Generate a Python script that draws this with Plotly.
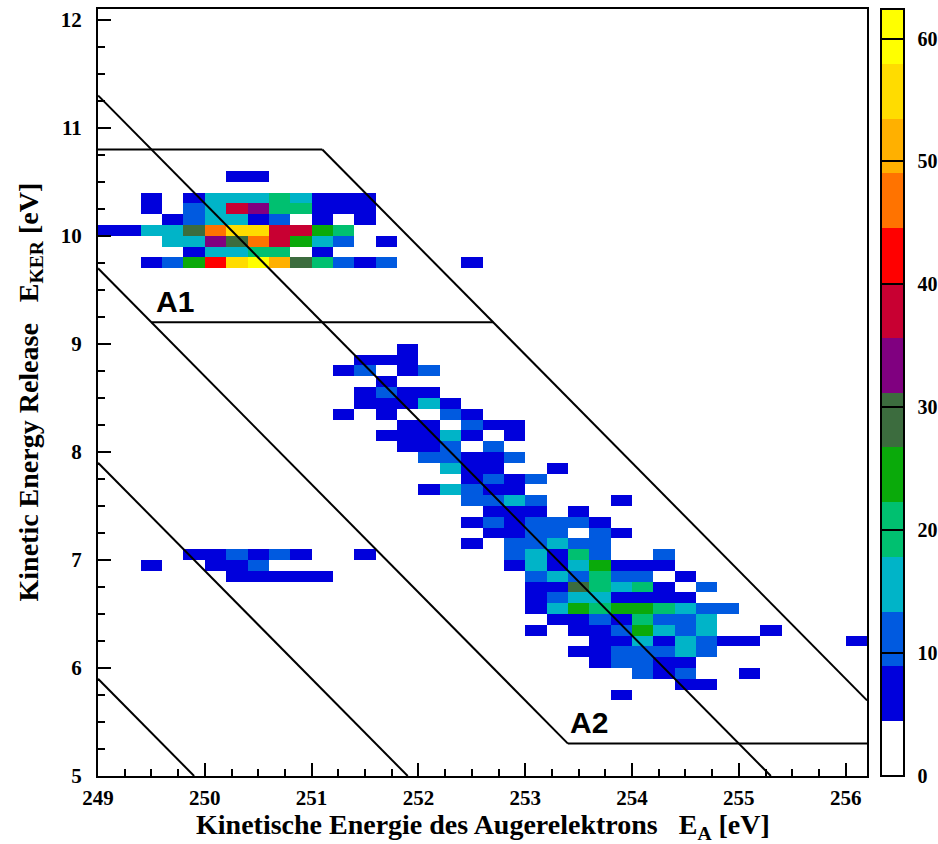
import numpy as np
import plotly.graph_objects as go

# ---- histogram binning ----------------------------------------------------
EA_START, EA_WIDTH, N_EA = 249.0, 0.2, 36      # Auger electron energy bins [eV]
KER_START, KER_WIDTH, N_KER = 5.0, 0.1, 71     # kinetic energy release bins [eV]

# Filled bins, one run per row: (KER bin centre, E_A centre of first bin, counts)
segments = [
    (10.55, 250.3, [6, 7]),
    (10.35, 249.5, [6, 0, 7, 15, 16, 15, 19, 14, 8, 7, 6]),
    (10.25, 249.5, [5, 0, 10, 16, 37, 33, 20, 18, 8, 7, 6]),
    (10.15, 249.7, [7, 11, 15, 17, 8, 10, 0, 6, 0, 5]),
    (10.05, 249.1, [6, 5, 14, 16, 28, 47, 55, 56, 38, 37, 24, 19]),
    (9.95, 249.7, [15, 14, 34, 30, 46, 39, 25, 16, 11, 0, 6]),
    (9.85, 249.9, [8, 16, 15, 21, 19, 0, 6]),
    (9.75, 249.5, [7, 12, 23, 42, 55, 62, 51, 29, 20, 12, 7, 10, 0, 0, 0, 6]),
    (8.95, 251.9, [6]),
    (8.85, 251.5, [5, 6, 7]),
    (8.75, 251.3, [6, 10, 0, 7, 9]),
    (8.65, 251.7, [6]),
    (8.55, 251.5, [7, 11, 8, 6]),
    (8.45, 251.5, [6, 8, 7, 15, 6]),
    (8.35, 251.3, [5, 0, 7, 0, 0, 10, 6]),
    (8.25, 251.9, [7, 8, 0, 11, 7, 6]),
    (8.15, 251.7, [6, 8, 7, 15, 8, 0, 6]),
    (8.05, 251.9, [7, 8, 10, 0, 10]),
    (7.95, 252.1, [10, 11, 8, 7, 10]),
    (7.85, 252.3, [15, 7, 8, 0, 0, 6]),
    (7.75, 252.5, [8, 10, 7, 11]),
    (7.65, 252.1, [6, 16, 12, 8, 7]),
    (7.55, 252.5, [11, 12, 15, 10, 0, 0, 0, 6]),
    (7.45, 252.7, [8, 7, 6, 0, 6]),
    (7.35, 252.5, [6, 11, 8, 10, 12, 10, 7]),
    (7.25, 252.7, [7, 8, 11, 12, 0, 10, 6]),
    (7.15, 252.5, [6, 0, 11, 12, 16, 12, 10]),
    (7.05, 252.9, [10, 16, 8, 19, 11, 0, 0, 9]),
    (6.95, 252.9, [7, 15, 8, 17, 24, 8, 7, 6]),
    (6.85, 253.1, [12, 16, 12, 21, 11, 10, 0, 6]),
    (6.75, 253.1, [8, 7, 29, 20, 16, 19, 7, 0, 10]),
    (6.65, 253.1, [7, 11, 16, 15, 8, 8, 7, 6]),
    (6.55, 253.1, [8, 15, 25, 21, 24, 25, 20, 16, 10, 9]),
    (6.45, 253.3, [8, 7, 12, 8, 20, 11, 12, 15]),
    (6.35, 253.1, [6, 0, 7, 8, 11, 24, 16, 12, 15, 0, 0, 6]),
    (6.25, 253.7, [8, 7, 15, 8, 16, 10, 7, 6, 0, 0, 0, 0, 6]),
    (6.15, 253.5, [7, 8, 11, 12, 10, 16, 11]),
    (6.05, 253.7, [7, 10, 11, 8, 7]),
    (5.95, 254.1, [10, 8, 9, 0, 0, 6]),
    (5.85, 254.5, [7, 6]),
    (5.75, 253.9, [6]),
    (7.05, 249.9, [7, 6, 10, 7, 11, 6, 0, 0, 6]),
    (6.95, 249.5, [6, 0, 0, 7, 8, 10]),
    (6.85, 250.3, [7, 8, 7, 6, 6]),
]

Z_MAX = 62.4
PALETTE = ["#ffffff", "#0000dc", "#005ae0", "#00b4c8", "#00c070", "#0aaa0a",
           "#3c6c3e", "#800080", "#c80032", "#ff0000", "#ff7300", "#ffb000",
           "#ffdc00", "#ffff00"]
CBAR_TICKS = [0, 10, 20, 30, 40, 50, 60]

# Total energies of the E_A + KER = const lines [eV]
E_LINE_D, E_LINE_C, E_LINE_B, E_LINE_A, E_LINE_R = 254.9, 256.9, 258.7, 260.3, 261.9
KER_A1_TOP, KER_A1_BOTTOM, KER_A2_BOTTOM = 10.8, 9.2, 5.3

X_RANGE = [249.0, 256.2]
Y_RANGE = [5.0, 12.1]

# ---- build the 2D histogram -------------------------------------------------
ea_centers = EA_START + EA_WIDTH * (np.arange(N_EA) + 0.5)
ker_centers = KER_START + KER_WIDTH * (np.arange(N_KER) + 0.5)
z = np.full((N_KER, N_EA), np.nan)
for ker, ea0, counts in segments:
    j = int(round((ker - KER_START) / KER_WIDTH - 0.5))
    i0 = int(round((ea0 - EA_START) / EA_WIDTH - 0.5))
    for k, c in enumerate(counts):
        if c > 0:
            z[j, i0 + k] = c
z_list = [[None if np.isnan(v) else float(v) for v in row] for row in z]

# discrete (contour-like) colour scale
n = len(PALETTE)
colorscale = []
for k, col in enumerate(PALETTE):
    colorscale.append([k / n, col])
    colorscale.append([(k + 1) / n, col])

serif_bold = dict(family="Liberation Serif", size=21, color="black", weight="bold")
cbar_font = dict(family="Liberation Serif", size=20, color="black", weight="bold")

fig = go.Figure()
fig.add_trace(go.Heatmap(
    x=ea_centers, y=ker_centers, z=z_list,
    zmin=0, zmax=Z_MAX, colorscale=colorscale, zsmooth=False,
    hoverinfo="skip",
    colorbar=dict(
        x=1.0182, xanchor="left", xref="paper", xpad=0,
        y=0.5, yanchor="middle", len=1, lenmode="fraction", ypad=0,
        thickness=23, thicknessmode="pixels",
        outlinewidth=2, outlinecolor="black",
        tickmode="array", tickvals=CBAR_TICKS,
        ticktext=["\u2009\u2009" + str(v) for v in CBAR_TICKS],
        ticks="inside", ticklen=23, tickwidth=2, tickcolor="black",
        tickfont=cbar_font,
    ),
))

# ---- energy conservation lines and A1 / A2 regions ---------------------------
segs = [
    ((X_RANGE[0], E_LINE_D - X_RANGE[0]), (E_LINE_D - Y_RANGE[0], Y_RANGE[0])),
    ((X_RANGE[0], E_LINE_C - X_RANGE[0]), (E_LINE_C - Y_RANGE[0], Y_RANGE[0])),
    ((X_RANGE[0], E_LINE_A - X_RANGE[0]), (E_LINE_A - Y_RANGE[0], Y_RANGE[0])),
    ((X_RANGE[0], E_LINE_B - X_RANGE[0]), (E_LINE_B - KER_A2_BOTTOM, KER_A2_BOTTOM)),
    ((E_LINE_R - KER_A1_TOP, KER_A1_TOP), (X_RANGE[1], E_LINE_R - X_RANGE[1])),
    ((X_RANGE[0], KER_A1_TOP), (E_LINE_R - KER_A1_TOP, KER_A1_TOP)),
    ((E_LINE_B - KER_A1_BOTTOM, KER_A1_BOTTOM), (E_LINE_R - KER_A1_BOTTOM, KER_A1_BOTTOM)),
    ((E_LINE_B - KER_A2_BOTTOM, KER_A2_BOTTOM), (X_RANGE[1], KER_A2_BOTTOM)),
]
for (x0, y0), (x1, y1) in segs:
    fig.add_shape(type="line", x0=x0, y0=y0, x1=x1, y1=y1, xref="x", yref="y",
                  line=dict(color="black", width=2))

region_font = dict(family="Liberation Sans", size=30, color="black", weight="bold")
fig.add_annotation(x=E_LINE_B - KER_A1_BOTTOM + 0.02, y=KER_A1_BOTTOM + 0.02,
                   text="A1", showarrow=False, xanchor="left", yanchor="bottom",
                   font=region_font)
fig.add_annotation(x=E_LINE_B - KER_A2_BOTTOM + 0.0, y=KER_A2_BOTTOM + 0.02,
                   text="A2", showarrow=False, xanchor="left", yanchor="bottom",
                   font=region_font)

# ---- axis titles --------------------------------------------------------------
title_font = dict(family="Liberation Serif", size=28, color="black", weight="bold")
fig.add_annotation(xref="paper", yref="paper", x=0.5, y=0, yshift=-50,
                   xanchor="center", yanchor="middle", showarrow=False,
                   text="Kinetische Energie des Augerelektrons\u00a0\u00a0\u00a0E<sub>A</sub> [eV]",
                   font=title_font)
fig.add_annotation(xref="paper", yref="paper", x=0, y=0.5, xshift=-68,
                   xanchor="center", yanchor="middle", showarrow=False, textangle=-90,
                   text="Kinetic Energy Release\u00a0\u00a0\u00a0E<sub>KER</sub> [eV]",
                   font=title_font)

axis_common = dict(
    showgrid=False, zeroline=False, showline=True, linewidth=2, linecolor="black",
    mirror=True, ticks="inside", ticklen=13, tickwidth=1.5, tickcolor="black",
    tickfont=serif_bold,
)
fig.update_xaxes(range=X_RANGE, tickmode="array", tickvals=list(range(249, 257)),
                 ticklabelstandoff=2,
                 minor=dict(ticks="inside", ticklen=7, tickwidth=1.5, tickcolor="black",
                            dtick=0.25, tick0=249, showgrid=False),
                 **axis_common)
fig.update_yaxes(range=Y_RANGE, tickmode="array", tickvals=list(range(5, 13)),
                 ticklabelstandoff=10,
                 minor=dict(ticks="inside", ticklen=7, tickwidth=1.5, tickcolor="black",
                            dtick=0.25, tick0=5, showgrid=False),
                 **axis_common)

fig.update_layout(
    width=938, height=844,
    margin=dict(l=98, r=71, t=9, b=68, autoexpand=False),
    paper_bgcolor="white", plot_bgcolor="white",
    showlegend=False,
)

fig.write_html("out.html")
